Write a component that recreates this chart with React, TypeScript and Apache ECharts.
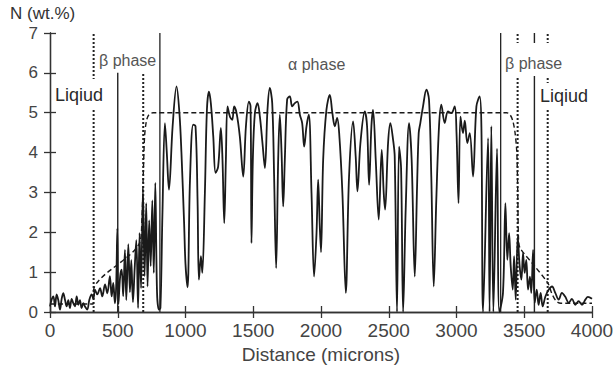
import React, { useEffect, useRef } from "react";
import * as echarts from "echarts";

// Measured nitrogen profile: [distance (microns), N (wt.%)]
const measured: [number, number][] = [
  [0, 0.14], [12, 0.31], [25, 0.39], [37, 0.14], [49, 0.44], [61, 0.3], [74, 0.06], [86, 0.33],
  [98, 0.47], [111, 0.3], [123, 0.14], [135, 0.3], [147, 0.1], [160, 0.33], [172, 0.22], [184, 0.14],
  [197, 0.39], [209, 0.18], [221, 0.3], [233, 0.1], [246, 0.22], [258, 0.14], [275, 0.06], [290, 0.3],
  [307, 0.44], [320, 0.33], [332, 0.56], [349, 0.44], [369, 0.6], [386, 0.39], [406, 0.69], [423, 0.47],
  [442, 0.9], [455, 0.39], [467, 0.73], [479, 0.22], [488, 0.6], [497, 2.1], [505, 0.2], [518, 0.9],
  [529, 1.06], [540, 0.4], [553, 1.56], [563, 0.3], [578, 1.7], [590, 0.5], [600, 1.3], [612, 0.25],
  [625, 1.1], [637, 1.8], [650, 0.1], [661, 1.98], [672, 0.6], [686, 3.07], [698, 0.9], [710, 2.73],
  [720, 0.64], [732, 2.3], [743, 1.15], [755, 2.8], [766, 0.98], [777, 3.24], [790, 0.48], [804, 0.06],
  [815, 0.1], [830, 2.5], [848, 4.74], [862, 4.0], [878, 3.07], [905, 4.66], [934, 5.66], [955, 5.0],
  [970, 4.0], [990, 2.2], [1000, 1.2], [1015, 0.62], [1033, 3.3], [1057, 4.7], [1074, 4.66], [1089, 2.8],
  [1099, 0.81], [1114, 1.4], [1124, 0.98], [1143, 2.98], [1158, 5.07], [1173, 5.53], [1187, 5.24], [1205, 4.4],
  [1222, 3.49], [1241, 3.65], [1261, 4.62], [1273, 3.82], [1286, 2.23], [1298, 3.82], [1310, 5.16], [1328, 4.9],
  [1345, 4.82], [1359, 5.16], [1377, 4.99], [1401, 4.4], [1426, 3.4], [1446, 4.66], [1468, 5.28], [1480, 5.16],
  [1487, 1.73], [1497, 3.82], [1512, 4.99], [1532, 5.24], [1549, 4.9], [1568, 4.24], [1586, 3.61], [1605, 5.07],
  [1622, 5.62], [1640, 5.24], [1654, 3.4], [1669, 1.1], [1684, 3.82], [1696, 4.95], [1709, 3.99], [1721, 2.65],
  [1733, 3.82], [1750, 5.33], [1770, 5.41], [1787, 5.16], [1807, 5.24], [1826, 5.28], [1844, 4.95], [1861, 4.74],
  [1876, 4.15], [1893, 4.66], [1910, 4.95], [1930, 2.98], [1949, 0.89], [1967, 1.98], [1979, 3.32], [1991, 2.15],
  [2000, 1.5], [2016, 3.82], [2040, 5.07], [2065, 5.45], [2084, 4.99], [2102, 4.66], [2119, 4.87], [2134, 4.49],
  [2158, 2.98], [2183, 0.48], [2207, 3.4], [2237, 4.78], [2256, 3.9], [2269, 3.03], [2291, 4.24], [2323, 5.03],
  [2340, 4.66], [2355, 3.19], [2372, 4.66], [2384, 5.07], [2404, 3.82], [2426, 2.32], [2448, 4.07], [2463, 2.98],
  [2473, 2.57], [2495, 4.24], [2512, 4.74], [2532, 4.32], [2544, 3.9], [2561, 0], [2576, 4.15], [2591, 3.6],
  [2606, 0], [2625, 2.57], [2650, 4.74], [2669, 3.82], [2692, 0.89], [2709, 3.15], [2721, 4.49], [2733, 4.74],
  [2753, 5.16], [2778, 5.58], [2797, 5.33], [2814, 3.4], [2832, 0.64], [2851, 2.82], [2871, 4.66], [2888, 5.2],
  [2913, 4.74], [2937, 5.03], [2962, 4.99], [2987, 5.16], [3000, 4.5], [3015, 2.73], [3029, 4.9], [3048, 4.49],
  [3061, 4.8], [3080, 4.24], [3098, 4.49], [3122, 3.4], [3147, 5.16], [3171, 5.41], [3184, 4.6], [3196, 0],
  [3233, 4.36], [3244, 0], [3257, 4.66], [3272, 0], [3299, 4.1], [3316, 0], [3343, 0.48], [3361, 2.73],
  [3375, 1.31], [3388, 1.98], [3400, 1.15], [3415, 0.56], [3425, 1.4], [3437, 0.31], [3452, 1.9], [3466, 1.15],
  [3479, 0.81], [3491, 1.48], [3503, 0.98], [3515, 1.31], [3528, 0.56], [3542, 0.89], [3552, 0.48], [3565, 1.56],
  [3577, 0.23], [3592, 0.56], [3606, 0.18], [3621, 0.48], [3636, 0.14], [3656, 0.39], [3680, 0.56], [3705, 0.64],
  [3729, 0.48], [3754, 0.31], [3778, 0.48], [3803, 0.38], [3828, 0.23], [3852, 0.33], [3877, 0.18], [3901, 0.27],
  [3926, 0.18], [3951, 0.31], [3970, 0.38], [4000, 0.33],
];

// Model (dashed) profile
const model: [number, number][] = [
  [0, 0.2], [318, 0.2], [322, 0.56], [661, 1.73], [678, 2.3], [688, 3.4], [698, 4.4], [712, 4.8],
  [730, 4.95], [760, 5.0], [3370, 5.0], [3395, 4.95], [3415, 4.8], [3432, 4.5], [3445, 4.0], [3452, 3.0],
  [3458, 1.8], [3470, 1.6], [3577, 1.15], [3675, 0.72], [3705, 0.45], [3737, 0.27], [3770, 0.22], [4000, 0.22],
];

// Phase boundary markers: [distance, top N]
const solidBoundaries: [number, number][] = [[811, 7], [3326, 7]];
const thinSolid: [number, number][] = [[500, 6.0], [3575, 7]];
const dottedBoundaries: [number, number][] = [[322, 7], [688, 6.0], [3451, 7], [3673, 7]];

const xTicks = { min: 0, max: 4000, interval: 500 };
const yTicks = { min: 0, max: 7, interval: 1 };

const FONT = "'Liberation Sans', Arial, Helvetica, sans-serif";

export default function App() {
  const ref = useRef<HTMLDivElement>(null);
  useEffect(() => {
    if (!ref.current) return;
    const chart = echarts.init(ref.current, undefined, { renderer: "svg" });
    const axisLine = { show: true, lineStyle: { color: "#333", width: 1.3 } };
    const tick = { show: true, inside: true, length: 6, lineStyle: { color: "#333", width: 1.3 } };
    const markerSeries = (list: [number, number][], type: any, width: number) =>
      list.map(([x, top]) => ({
        type: "line",
        data: [[x, 0], [x, top]],
        symbol: "none",
        silent: true,
        lineStyle: { color: "#222", width, type },
        z: 3,
      }));
    chart.setOption({
      animation: false,
      textStyle: { fontFamily: FONT },
      grid: { left: 50, right: 23, top: 33, bottom: 54, outerBoundsMode: "none" },
      xAxis: [
        {
          type: "value", ...xTicks, position: "bottom",
          axisLine, axisTick: tick, splitLine: { show: false },
          axisLabel: {
            fontSize: 19, color: "#444", margin: 9, fontFamily: FONT,
            formatter: (v: number) => String(v),
          },
          name: "Distance (microns)", nameLocation: "middle", nameGap: 30,
          nameTextStyle: { fontSize: 19, color: "#444", fontFamily: FONT },
        },
        {
          type: "value", ...xTicks, position: "top",
          axisLine, axisTick: tick, splitLine: { show: false }, axisLabel: { show: false },
        },
      ],
      yAxis: [
        {
          type: "value", ...yTicks, position: "left",
          axisLine, axisTick: tick, splitLine: { show: false },
          axisLabel: {
            fontSize: 17, color: "#444", margin: 12, fontFamily: FONT,
            formatter: (v: number) => String(v),
          },
        },
        {
          type: "value", ...yTicks, position: "right",
          axisLine, axisTick: tick, splitLine: { show: false }, axisLabel: { show: false },
        },
      ],
      series: [
        {
          type: "line",
          data: measured,
          symbol: "none",
          smooth: 0.35,
          lineStyle: { color: "#1a1a1a", width: 1.8 },
          z: 4,
        },
        {
          type: "line",
          data: model,
          symbol: "none",
          smooth: 0.3,
          lineStyle: { color: "#1a1a1a", width: 1.4, type: [5, 3] },
          z: 5,
        },
        ...markerSeries(solidBoundaries, "solid", 1.3),
        ...markerSeries(thinSolid, "solid", 1.4),
        ...markerSeries(dottedBoundaries, [2, 2], 2),
      ],
      graphic: [
        { type: "rect", z: 100, shape: { x: 52, y: 79, width: 54, height: 29 }, style: { fill: "#fff" } },
        { type: "rect", z: 100, shape: { x: 503, y: 43, width: 62, height: 33 }, style: { fill: "#fff" } },
        { type: "rect", z: 100, shape: { x: 539, y: 83, width: 51, height: 25 }, style: { fill: "#fff" } },
        {
          type: "text", z: 110, x: 10, y: 13,
          style: {
            text: "N (wt.%)", fontSize: 17, fill: "#333", fontFamily: FONT,
            verticalAlign: "middle",
          },
        },
        {
          type: "text", z: 110, x: 55, y: 95,
          style: { text: "Liqiud", fontSize: 18, fill: "#2a2a2a", fontFamily: FONT, verticalAlign: "middle" },
        },
        {
          type: "text", z: 110, x: 99, y: 60,
          style: { text: "β phase", fontSize: 16, fill: "#555", fontFamily: FONT, verticalAlign: "middle" },
        },
        {
          type: "text", z: 110, x: 288, y: 64,
          style: { text: "α phase", fontSize: 16, fill: "#555", fontFamily: FONT, verticalAlign: "middle" },
        },
        {
          type: "text", z: 110, x: 505, y: 63,
          style: { text: "β phase", fontSize: 16, fill: "#555", fontFamily: FONT, verticalAlign: "middle" },
        },
        {
          type: "text", z: 110, x: 540, y: 96,
          style: { text: "Liqiud", fontSize: 18, fill: "#2a2a2a", fontFamily: FONT, verticalAlign: "middle" },
        },
      ],
    });
    return () => chart.dispose();
  }, []);
  return <div ref={ref} style={{ width: 615, height: 366, position: "absolute", left: 0, top: 0 }} />;
}
